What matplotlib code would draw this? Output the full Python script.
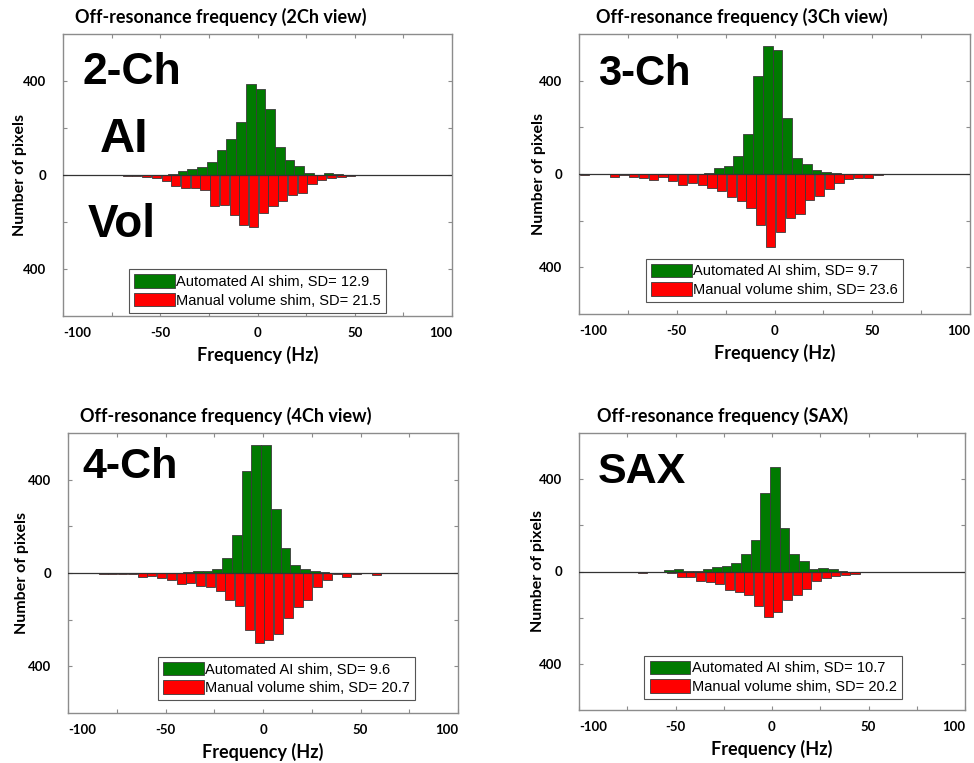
import matplotlib
matplotlib.use("Agg")
import matplotlib.pyplot as plt
import numpy as np

W, H = 974, 763

# Histogramas de frequência fora de ressonância (contagem de pixels por bin de 5 Hz)
bin_step = 5

# 2-Ch
ch2_ai_start = -48.5
ch2_ai = [2, 3, 19, 24, 33, 56, 106, 153, 225, 386, 364, 280, 118, 65, 39, 10, 2, 8, 3]
ch2_vol_start = -67
ch2_vol = [3, 5, 9, 14, 26, 47, 54, 57, 65, 133, 126, 169, 212, 222, 162, 133, 112, 83,
           76, 40, 23, 14, 7, 3]

# 3-Ch
ch3_ai_start = -38.5
ch3_ai = [2, 6, 24, 34, 79, 170, 421, 550, 531, 239, 70, 43, 17, 9, 4]
ch3_vol_start = -97
ch3_vol = [3, 2, 2, 11, 4, 11, 16, 26, 11, 30, 47, 40, 49, 60, 73, 97, 116, 147, 219, 314,
           250, 190, 171, 111, 93, 66, 37, 23, 16, 16, 4, 2]

# 4-Ch
ch4_ai_start = -38.5
ch4_ai = [3, 10, 10, 17, 63, 161, 436, 550, 550, 274, 106, 33, 17, 10, 4]
ch4_vol_start = -82
ch4_vol = [4, 3, 3, 3, 17, 11, 21, 29, 47, 43, 54, 61, 76, 114, 143, 243, 300, 289, 261,
           193, 146, 114, 61, 31, 4, 17, 3, 2, 10]

# SAX
sax_ai_start = -53.5
sax_ai = [6, 10, 2, 4, 10, 19, 25, 36, 74, 138, 338, 454, 188, 77, 46, 10, 17, 10, 4]
sax_vol_start = -67
sax_vol = [7, 3, 4, 7, 22, 25, 43, 46, 54, 80, 90, 101, 148, 196, 177, 123, 101, 75, 43,
           29, 19, 14, 9]

titles = ["Off-resonance frequency (2Ch view)", "Off-resonance frequency (3Ch view)",
          "Off-resonance frequency (4Ch view)", "Off-resonance frequency (SAX)"]
sd_ai = [12.9, 9.7, 9.6, 10.7]
sd_vol = [21.5, 23.6, 20.7, 20.2]

GREEN = "#007a00"
RED = "#ff0000"
EDGE = "#3a3a3a"
SPINE = "#8c8c8c"


def add_ax(fig, left, top, right, bottom):
    return fig.add_axes([left / W, 1 - bottom / H, (right - left) / W, (bottom - top) / H])


def painel(ax, ai_start, ai, vol_start, vol, title, sd1, sd2, title_x, leg_x, leg_y, ylab_x):
    x_ai = ai_start + bin_step * np.arange(len(ai))
    x_vol = vol_start + bin_step * np.arange(len(vol))
    b1 = ax.bar(x_ai, ai, width=5, color=GREEN, edgecolor=EDGE, linewidth=0.6, zorder=2)
    b2 = ax.bar(x_vol, -np.array(vol), width=4.7, color=RED, edgecolor=EDGE, linewidth=0.6, zorder=2)
    ax.axhline(0, color="#333333", lw=0.9, zorder=3)

    ax.set_xlim(-100, 100)
    ax.set_ylim(-600, 600)
    ax.set_xticks([-100, -75, -50, -25, 0, 25, 50, 75, 100])
    ax.set_xticklabels(["-100", "", "-50", "", "0", "", "50", "", "100"])
    ax.set_yticks([-400, -200, 0, 200, 400])
    ax.set_yticklabels(["400", "", "0", "", "400"])
    ax.tick_params(direction="in", length=3, color=SPINE, top=True, right=True,
                   labelsize=9.5, pad=8)
    ax.tick_params(axis="y", pad=12)
    for lbl in ax.get_xticklabels() + ax.get_yticklabels():
        lbl.set_fontweight("bold")
        lbl.set_family("Lato")
    xl = ax.get_xticklabels()
    xl[0].set_horizontalalignment("left")
    xl[-1].set_horizontalalignment("right")
    for s in ax.spines.values():
        s.set_color(SPINE)
        s.set_linewidth(1.0)

    ax.set_xlabel("Frequency (Hz)", fontsize=13, fontweight="bold", family="Lato", labelpad=5)
    ax.set_ylabel("Number of pixels", fontsize=11.5, fontweight="bold", family="Lato")
    ax.yaxis.set_label_coords(ylab_x, 0.5)
    ax.text(title_x, 1.028, title, transform=ax.transAxes, ha="left", va="bottom",
            fontsize=13, fontweight="bold", family="Lato")

    leg = ax.legend([b1, b2], [f"Automated AI shim, SD= {sd1}", f"Manual volume shim, SD= {sd2}"],
                    loc="lower center", bbox_to_anchor=(leg_x, leg_y), borderaxespad=0,
                    fancybox=False, edgecolor="#555555", framealpha=1,
                    prop={"family": "Liberation Sans", "size": 10.5},
                    handlelength=2.8, handleheight=1.05, handletextpad=0.1,
                    labelspacing=0.25, borderpad=0.35)
    leg.get_frame().set_linewidth(0.8)


fig = plt.figure(figsize=(W / 100, H / 100), dpi=100)
fig.patch.set_facecolor("white")

ax1 = add_ax(fig, 63, 34, 452, 316)
ax2 = add_ax(fig, 579, 34, 970, 314)
ax3 = add_ax(fig, 68, 433, 458, 713)
ax4 = add_ax(fig, 579, 433, 965, 710)

painel(ax1, ch2_ai_start, ch2_ai, ch2_vol_start, ch2_vol, titles[0], sd_ai[0], sd_vol[0],
       0.03, 0.5, 0.012, -0.092)
painel(ax2, ch3_ai_start, ch3_ai, ch3_vol_start, ch3_vol, titles[1], sd_ai[1], sd_vol[1],
       0.044, 0.5, 0.043, -0.085)
painel(ax3, ch4_ai_start, ch4_ai, ch4_vol_start, ch4_vol, titles[2], sd_ai[2], sd_vol[2],
       0.03, 0.56, 0.046, -0.10)
painel(ax4, sax_ai_start, sax_ai, sax_vol_start, sax_vol, titles[3], sd_ai[3], sd_vol[3],
       0.046, 0.503, 0.04, -0.088)

# rótulos grandes
def big(x, y, s, size):
    fig.text(x / W, 1 - y / H, s, ha="left", va="baseline", fontsize=size,
             fontweight="bold", family="Liberation Sans")

big(83, 84, "2-Ch", 32)
big(100, 152, "AI", 35)
big(88, 237, "Vol", 33)
big(598, 85, "3-Ch", 30)
big(82, 478, "4-Ch", 31)
big(598, 483, "SAX", 31)

fig.savefig("out.png", dpi=100)
